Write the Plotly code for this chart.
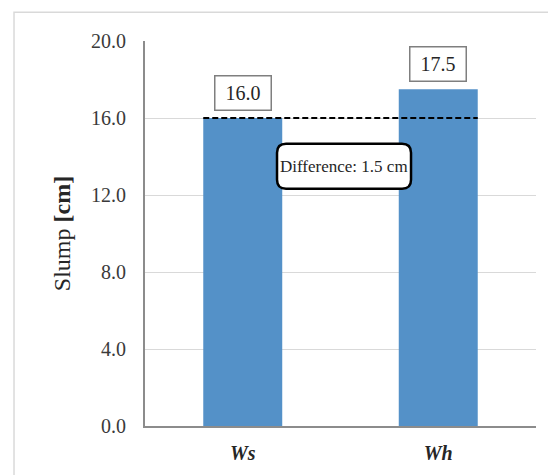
import plotly.graph_objects as go

categories = ["Ws", "Wh"]
slump_values = [16.0, 17.5]
y_ticks = [0, 4, 8, 12, 16, 20]
difference_text = "Difference: 1.5 cm"

BAR_COLOR = "#5491C8"
FONT = "Liberation Serif"
TXT = "#3a3a3a"
BAR_WIDTH = 0.404

fig = go.Figure()
fig.add_trace(go.Bar(
    x=list(range(len(categories))), y=slump_values, width=BAR_WIDTH,
    marker=dict(color=BAR_COLOR, line=dict(width=0)),
    hoverinfo="skip", showlegend=False,
))

# value label boxes
for i, v in enumerate(slump_values):
    fig.add_annotation(
        x=i, y=v, xref="x", yref="y", text=f"{v:.1f}", showarrow=False,
        yanchor="bottom", yshift=7, width=49, height=27,
        font=dict(family=FONT, size=20, color="#262626"),
        bordercolor="#7f7f7f", borderwidth=1.5, borderpad=3, bgcolor="white",
    )

# dashed reference line at first bar value
fig.add_shape(type="line", xref="x", yref="y",
              x0=0 - BAR_WIDTH / 2, x1=len(categories) - 1 + BAR_WIDTH / 2,
              y0=slump_values[0], y1=slump_values[0],
              line=dict(color="black", width=2, dash="6px,3px"), layer="above")

# rounded box for difference text
w, h, r = 134, 45, 9
hw, hh = w / 2, h / 2
path = (f"M {-hw + r},{-hh} L {hw - r},{-hh} Q {hw},{-hh} {hw},{-hh + r} "
        f"L {hw},{hh - r} Q {hw},{hh} {hw - r},{hh} L {-hw + r},{hh} "
        f"Q {-hw},{hh} {-hw},{hh - r} L {-hw},{-hh + r} Q {-hw},{-hh} {-hw + r},{-hh} Z")
diff_x = 0.518
diff_y = (slump_values[0] + slump_values[1]) / 2 - 3.25
fig.add_shape(type="path", xref="x", yref="y", xsizemode="pixel", ysizemode="pixel",
              xanchor=diff_x, yanchor=diff_y, path=path,
              fillcolor="white", line=dict(color="black", width=2.5), layer="above")
fig.add_annotation(x=diff_x, y=diff_y, xref="x", yref="y", text=difference_text,
                   showarrow=False,
                   font=dict(family=FONT, size=17, color="#262626"))

# outer chart border
fig.add_shape(type="rect", xref="paper", yref="paper",
              x0=-0.335, x1=1.09, y0=-0.2, y1=1.0745,
              line=dict(color="#d9d9d9", width=1.5), fillcolor="rgba(0,0,0,0)", layer="below")

fig.update_layout(
    width=556, height=475,
    margin=dict(l=137, r=28, t=33, b=57),
    paper_bgcolor="white", plot_bgcolor="white",
    font=dict(family=FONT, color=TXT),
    bargap=0.6,
)
fig.update_xaxes(
    range=[-0.5, len(categories) - 0.5],
    tickmode="array", tickvals=list(range(len(categories))),
    ticktext=[f"<b><i>{c}</i></b>" for c in categories],
    tickfont=dict(family=FONT, size=20, color="#262626"),
    showline=True, linecolor="#8c8c8c", linewidth=2,
    showgrid=False, zeroline=False, ticks="", ticklabelstandoff=8,
)
fig.update_yaxes(
    range=[0, 20], tickmode="array", tickvals=y_ticks, tickformat=".1f",
    tickfont=dict(family=FONT, size=20, color=TXT),
    showline=True, linecolor="#8c8c8c", linewidth=2,
    showgrid=True, gridcolor="#d9d9d9", gridwidth=1,
    zeroline=False, ticks="", ticklabelstandoff=13,
    title=dict(text="Slump <b>[cm]</b>", font=dict(family=FONT, size=24, color="#262626"),
               standoff=14),
)

fig.write_html("out.html")
